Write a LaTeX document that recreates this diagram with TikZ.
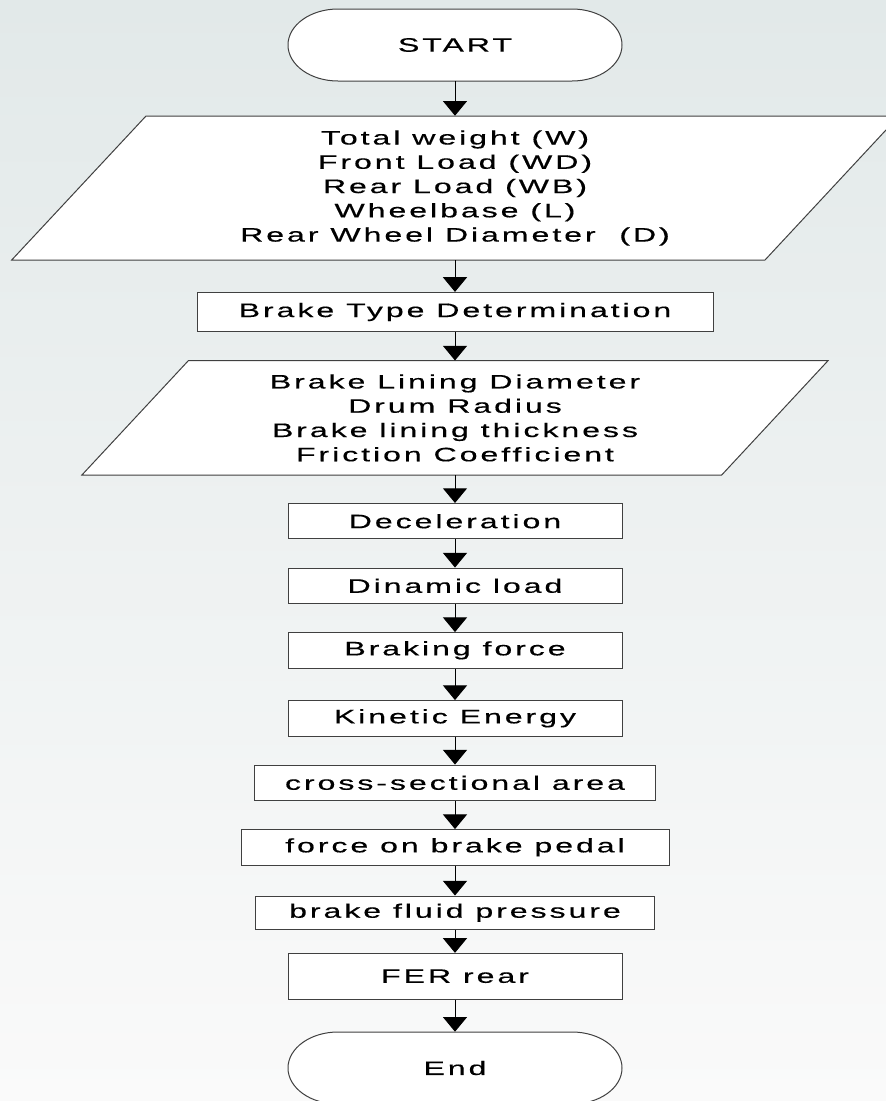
\documentclass[tikz,border=0pt]{standalone}
\usepackage{fontspec}
\setmainfont{Liberation Sans}[FakeStretch=1.65,LetterSpace=15,FakeBold=0.4]
\usetikzlibrary{arrows.meta}

\begin{document}
\begin{tikzpicture}[x=0.75pt,y=0.75pt,yscale=-1,xscale=1,
  io/.style={draw={rgb,255:red,64;green,64;blue,64},fill=white,line width=0.75pt},
  txt/.style={inner sep=0pt,align=center,font=\fontsize{14.6pt}{18.2pt}\selectfont},
  box/.style={io,txt,minimum width=250.5pt,minimum height=26.6pt},
  flow/.style={-{Triangle[width=18pt,length=11pt]},line width=0.75pt,black}]
\fill[top color={rgb,255:red,226;green,233;blue,233},bottom color={rgb,255:red,250;green,250;blue,250}] (0,0) rectangle (886,1101);
\useasboundingbox (0,0) rectangle (886,1101);
\clip (0,0) rectangle (886,1101);
\draw[io] (338,9) -- (572,9) arc[start angle=-90,end angle=90,x radius=50,y radius=36] -- (338,81) arc[start angle=90,end angle=270,x radius=50,y radius=36] -- cycle;
\node[txt,minimum height=54pt] (start) at (455,45) {START};
\draw[io] (146,116) -- (899,116) -- (765,260) -- (11.7,260) -- cycle;
\node[txt,minimum height=108pt] (input) at (455,188) {Total weight (W)\\Front Load (WD)\\Rear Load (WB)\\Wheelbase (L)\\Rear Wheel Diameter~ (D)};
\node[box,minimum width=387pt,minimum height=29.4pt] (btype) at (455,312) {Brake Type Determination};
\draw[io] (188.3,360.7) -- (828,360.7) -- (721.7,475) -- (81.9,475) -- cycle;
\node[txt,minimum height=85.7pt] (lining) at (455,417.9) {Brake Lining Diameter\\Drum Radius\\Brake lining thickness\\Friction Coefficient};
\node[box] (decel) at (455,521.2) {Deceleration};
\node[box] (dynload) at (455,585.8) {Dinamic load};
\node[box] (bforce) at (455,650.3) {Braking force};
\node[box] (kinetic) at (455,718.3) {Kinetic Energy};
\node[box,minimum width=301pt] (area) at (455,782.8) {cross-sectional area};
\node[box,minimum width=321pt] (pedal) at (455,847.3) {force on brake pedal};
\node[box,minimum width=299pt,minimum height=25pt] (fluid) at (455,912.7) {brake fluid pressure};
\node[box,minimum height=34.3pt] (fer) at (455,976.2) {FER rear};
\draw[io] (338,1032) -- (572,1032) arc[start angle=-90,end angle=90,x radius=50,y radius=36] -- (338,1104) arc[start angle=90,end angle=270,x radius=50,y radius=36] -- cycle;
\node[txt,minimum height=54pt] (stop) at (455,1068) {End};
\draw[flow] (start.south) -- (input.north);
\draw[flow] (input.south) -- (btype.north);
\draw[flow] (btype.south) -- (lining.north);
\draw[flow] (lining.south) -- (decel.north);
\draw[flow] (decel.south) -- (dynload.north);
\draw[flow] (dynload.south) -- (bforce.north);
\draw[flow] (bforce.south) -- (kinetic.north);
\draw[flow] (kinetic.south) -- (area.north);
\draw[flow] (area.south) -- (pedal.north);
\draw[flow] (pedal.south) -- (fluid.north);
\draw[flow] (fluid.south) -- (fer.north);
\draw[flow] (fer.south) -- (stop.north);
\end{tikzpicture}
\end{document}
